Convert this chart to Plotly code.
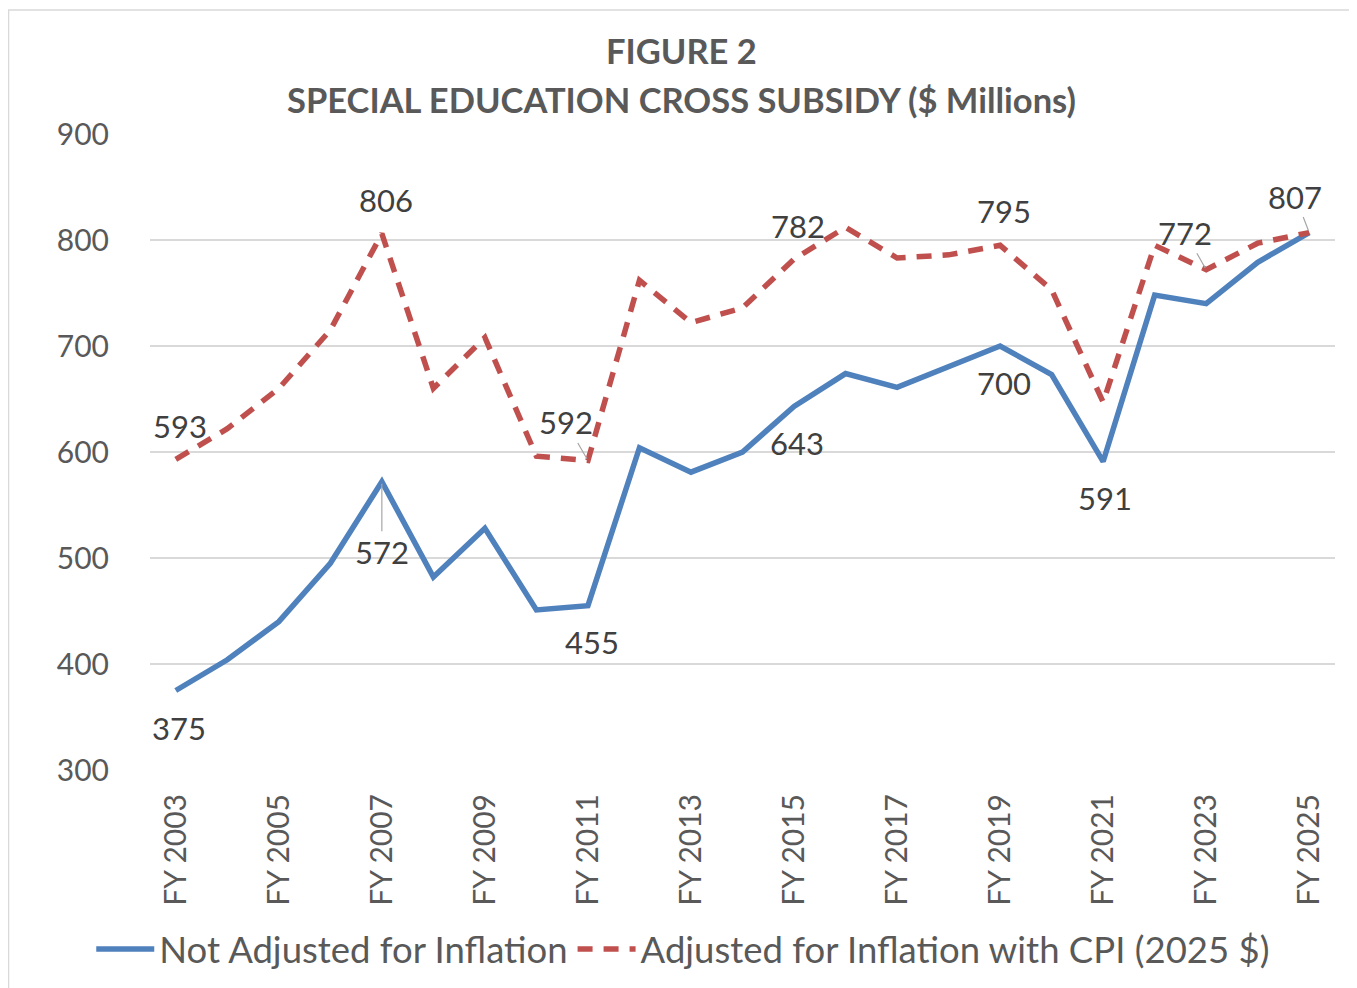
import plotly.graph_objects as go

years = [f"FY {y}" for y in range(2003, 2026)]
not_adjusted = [375, 404, 440, 495, 572, 482, 528, 451, 455, 604, 581, 600, 643,
                674, 661, 680, 700, 673, 591, 748, 740, 779, 807]
adjusted_cpi = [593, 622, 660, 715, 806, 660, 708, 596, 592, 762, 722, 736, 782,
                812, 783, 786, 795, 753, 647, 795, 772, 797, 807]
series_names = ["Not Adjusted for Inflation", "Adjusted for Inflation with CPI (2025 $)"]
title_lines = ["FIGURE 2", "SPECIAL EDUCATION CROSS SUBSIDY ($ Millions)"]

# labelled points: (series index, year index)
labelled = [(1, 0), (1, 4), (1, 8), (1, 12), (1, 16), (1, 20), (1, 22),
            (0, 0), (0, 4), (0, 8), (0, 12), (0, 16), (0, 18)]
# label offsets in pixels (ax, ay) and whether a leader line is drawn
label_style = {
    (1, 0): (4, -33, False), (1, 4): (4, -34, False), (1, 8): (-22, -38, True),
    (1, 12): (4, -33, False), (1, 16): (4, -34, False), (1, 20): (-21, -37, True),
    (1, 22): (-14, -36, True),
    (0, 0): (3, 37, False), (0, 4): (0, 70, True), (0, 8): (4, 36, False),
    (0, 12): (3, 37, False), (0, 16): (4, 37, False), (0, 18): (2, 36, False),
}

FONT = "Lato"
BLUE = "#4F81BD"
RED = "#C0504D"

fig = go.Figure()
fig.add_trace(go.Scatter(x=years, y=not_adjusted, mode="lines", name=series_names[0],
                         line=dict(color=BLUE, width=5.5)))
fig.add_trace(go.Scatter(x=years, y=adjusted_cpi, mode="lines", name=series_names[1],
                         line=dict(color=RED, width=5.5, dash="15px,11px")))

data = [not_adjusted, adjusted_cpi]
for key in labelled:
    s, i = key
    ax, ay, leader = label_style[key]
    fig.add_annotation(x=years[i], y=data[s][i], xref="x", yref="y",
                       text=str(data[s][i]), showarrow=True, ax=ax, ay=ay,
                       arrowhead=0, arrowwidth=1.2,
                       arrowcolor="#A6A6A6" if leader else "rgba(0,0,0,0)",
                       standoff=2,
                       font=dict(family=FONT, size=31, color="#404040"))

# two-line title
for line, ypos in zip(title_lines, [1.132, 1.055]):
    fig.add_annotation(text="<b>" + line + "</b>", xref="paper", yref="paper",
                       x=0.4485, y=ypos, xanchor="center", yanchor="middle",
                       showarrow=False,
                       font=dict(family=FONT, size=34.5, color="#595959"))

# chart border
fig.add_shape(type="rect", xref="paper", yref="paper",
              x0=-0.1194, x1=1.0177, y0=-0.36, y1=1.195,
              line=dict(color="#D9D9D9", width=1.5), layer="below")

fig.update_layout(
    width=1349, height=980,
    margin=dict(l=142, r=22, t=126, b=218, autoexpand=False),
    paper_bgcolor="white", plot_bgcolor="white",
    xaxis=dict(type="category", range=[-0.5, 22.5], tickmode="array",
               tickvals=years[::2], ticktext=years[::2], tickangle=-90,
               showgrid=False, showline=False, ticks="", ticklabelstandoff=17,
               automargin=False,
               tickfont=dict(family=FONT, size=30, color="#595959")),
    yaxis=dict(range=[300, 900], dtick=100, showgrid=True, gridcolor="#D9D9D9",
               gridwidth=1.5, zeroline=False, showline=False, ticks="",
               ticklabelstandoff=40, automargin=False,
               tickfont=dict(family=FONT, size=30, color="#595959")),
    legend=dict(orientation="h", x=0.45, xanchor="center", y=-0.282, yanchor="middle",
                font=dict(family=FONT, size=36.5, color="#595959"), itemwidth=58,
                tracegroupgap=0),
    showlegend=True,
)

fig.write_html("out.html")
